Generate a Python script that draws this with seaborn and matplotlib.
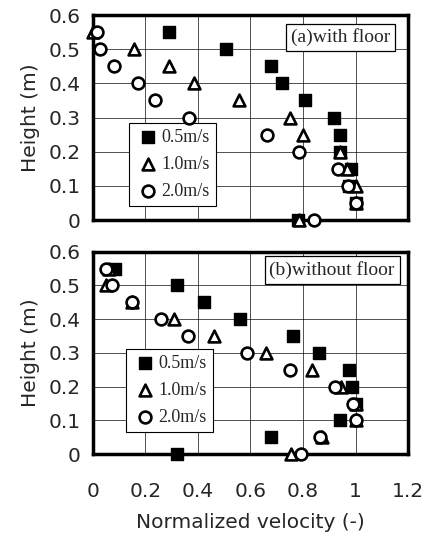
import numpy as np
import pandas as pd
import matplotlib
matplotlib.use("Agg")
import matplotlib.pyplot as plt
import seaborn as sns

# ---- data ----
series_labels = ["0.5m/s", "1.0m/s", "2.0m/s"]

# Panel (a) with floor
a_sq_x = [0.29, 0.507, 0.68, 0.72, 0.806, 0.917, 0.939, 0.94, 0.983, 0.975, 1.0, 0.78]
a_sq_y = [0.55, 0.50, 0.45, 0.40, 0.35, 0.30, 0.25, 0.20, 0.15, 0.10, 0.05, 0.0]
a_tr_x = [0.0, 0.157, 0.29, 0.385, 0.555, 0.75, 0.80, 0.94, 0.968, 1.0, 1.0, 0.783]
a_tr_y = [0.55, 0.50, 0.45, 0.40, 0.35, 0.30, 0.25, 0.20, 0.15, 0.10, 0.05, 0.0]
a_ci_x = [0.015, 0.028, 0.08, 0.172, 0.238, 0.367, 0.662, 0.786, 0.934, 0.972, 1.0, 0.843]
a_ci_y = [0.55, 0.50, 0.45, 0.40, 0.35, 0.30, 0.25, 0.20, 0.15, 0.10, 0.05, 0.0]

# Panel (b) without floor
b_sq_x = [0.083, 0.322, 0.424, 0.56, 0.76, 0.862, 0.975, 0.987, 1.0, 0.939, 0.68, 0.322]
b_sq_y = [0.55, 0.50, 0.45, 0.40, 0.35, 0.30, 0.25, 0.20, 0.15, 0.10, 0.05, 0.0]
b_tr_x = [0.06, 0.05, 0.15, 0.308, 0.462, 0.659, 0.834, 0.943, 1.0, 1.0, 0.872, 0.755]
b_tr_y = [0.55, 0.50, 0.45, 0.40, 0.35, 0.30, 0.25, 0.20, 0.15, 0.10, 0.05, 0.0]
b_ci_x = [0.05, 0.073, 0.15, 0.26, 0.363, 0.586, 0.752, 0.921, 0.99, 1.0, 0.866, 0.794]
b_ci_y = [0.55, 0.50, 0.45, 0.40, 0.35, 0.30, 0.25, 0.20, 0.15, 0.10, 0.05, 0.0]

x_ticks = [0, 0.2, 0.4, 0.6, 0.8, 1.0, 1.2]
x_tick_labels = ["0", "0.2", "0.4", "0.6", "0.8", "1", "1.2"]
y_ticks = [0, 0.1, 0.2, 0.3, 0.4, 0.5, 0.6]
y_tick_labels = ["0", "0.1", "0.2", "0.3", "0.4", "0.5", "0.6"]
panel_titles = ["(a)with floor", "(b)without floor"]

sns.set_style("white")
plt.rcParams["font.family"] = ["DejaVu Sans"]

FS = 14.5

fig = plt.figure(figsize=(4.3, 5.38), dpi=100)
ax_a = fig.add_axes([0.216, 0.591, 0.733, 0.381])
ax_b = fig.add_axes([0.216, 0.156, 0.733, 0.376])

styles = [
    dict(marker="s", facecolor="black", s=72, lw=1.0),
    dict(marker="^", facecolor="white", s=72, lw=1.9),
    dict(marker="o", facecolor="white", s=72, lw=1.9),
]

panels = [
    (ax_a, [(a_sq_x, a_sq_y), (a_tr_x, a_tr_y), (a_ci_x, a_ci_y)], panel_titles[0],
     (0.114, 0.068), (0.943, 0.935)),
    (ax_b, [(b_sq_x, b_sq_y), (b_tr_x, b_tr_y), (b_ci_x, b_ci_y)], panel_titles[1],
     (0.105, 0.109), (0.958, 0.955)),
]

for ax, series, title, leg_pos, title_pos in panels:
    for (xs, ys), lab, st in zip(series, series_labels, styles):
        df = pd.DataFrame({"x": xs, "y": ys})
        sns.scatterplot(data=df, x="x", y="y", ax=ax, marker=st["marker"],
                        color=st["facecolor"], edgecolor="black",
                        linewidth=st["lw"], s=st["s"], label=lab,
                        clip_on=False, zorder=3)
    ax.set_xlim(0, 1.2)
    ax.set_ylim(0, 0.6)
    ax.set_xticks(x_ticks)
    ax.set_yticks(y_ticks)
    ax.set_yticklabels(y_tick_labels, fontsize=FS)
    ax.grid(True, color="black", linewidth=0.6, alpha=0.8)
    ax.set_axisbelow(True)
    for sp in ax.spines.values():
        sp.set_linewidth(2.5)
        sp.set_color("black")
        sp.set_visible(True)
    ax.tick_params(axis="y", length=0, pad=9)
    ax.tick_params(axis="x", length=0, pad=20)
    ax.set_ylabel("Height (m)", fontsize=FS, labelpad=6)
    ax.set_xlabel("")
    leg = ax.legend(loc="lower left", bbox_to_anchor=leg_pos, frameon=True,
                    fancybox=False, edgecolor="black", framealpha=1,
                    prop={"family": "Liberation Serif", "size": 13},
                    handletextpad=0.05, borderpad=0.35, labelspacing=0.55,
                    borderaxespad=0, markerscale=1.0, handlelength=1.4)
    leg.get_frame().set_linewidth(0.8)
    leg.set_zorder(2.5)
    ax.text(title_pos[0], title_pos[1], title, transform=ax.transAxes,
            ha="right", va="top", fontsize=14, family="Liberation Serif",
            bbox=dict(boxstyle="square,pad=0.25", facecolor="white",
                      edgecolor="black", linewidth=0.9), zorder=4)

ax_a.set_xticklabels([])
ax_b.set_xticklabels(x_tick_labels, fontsize=FS)
ax_b.set_xlabel("Normalized velocity (-)", fontsize=FS, labelpad=9)

fig.savefig("out.png", dpi=100)
